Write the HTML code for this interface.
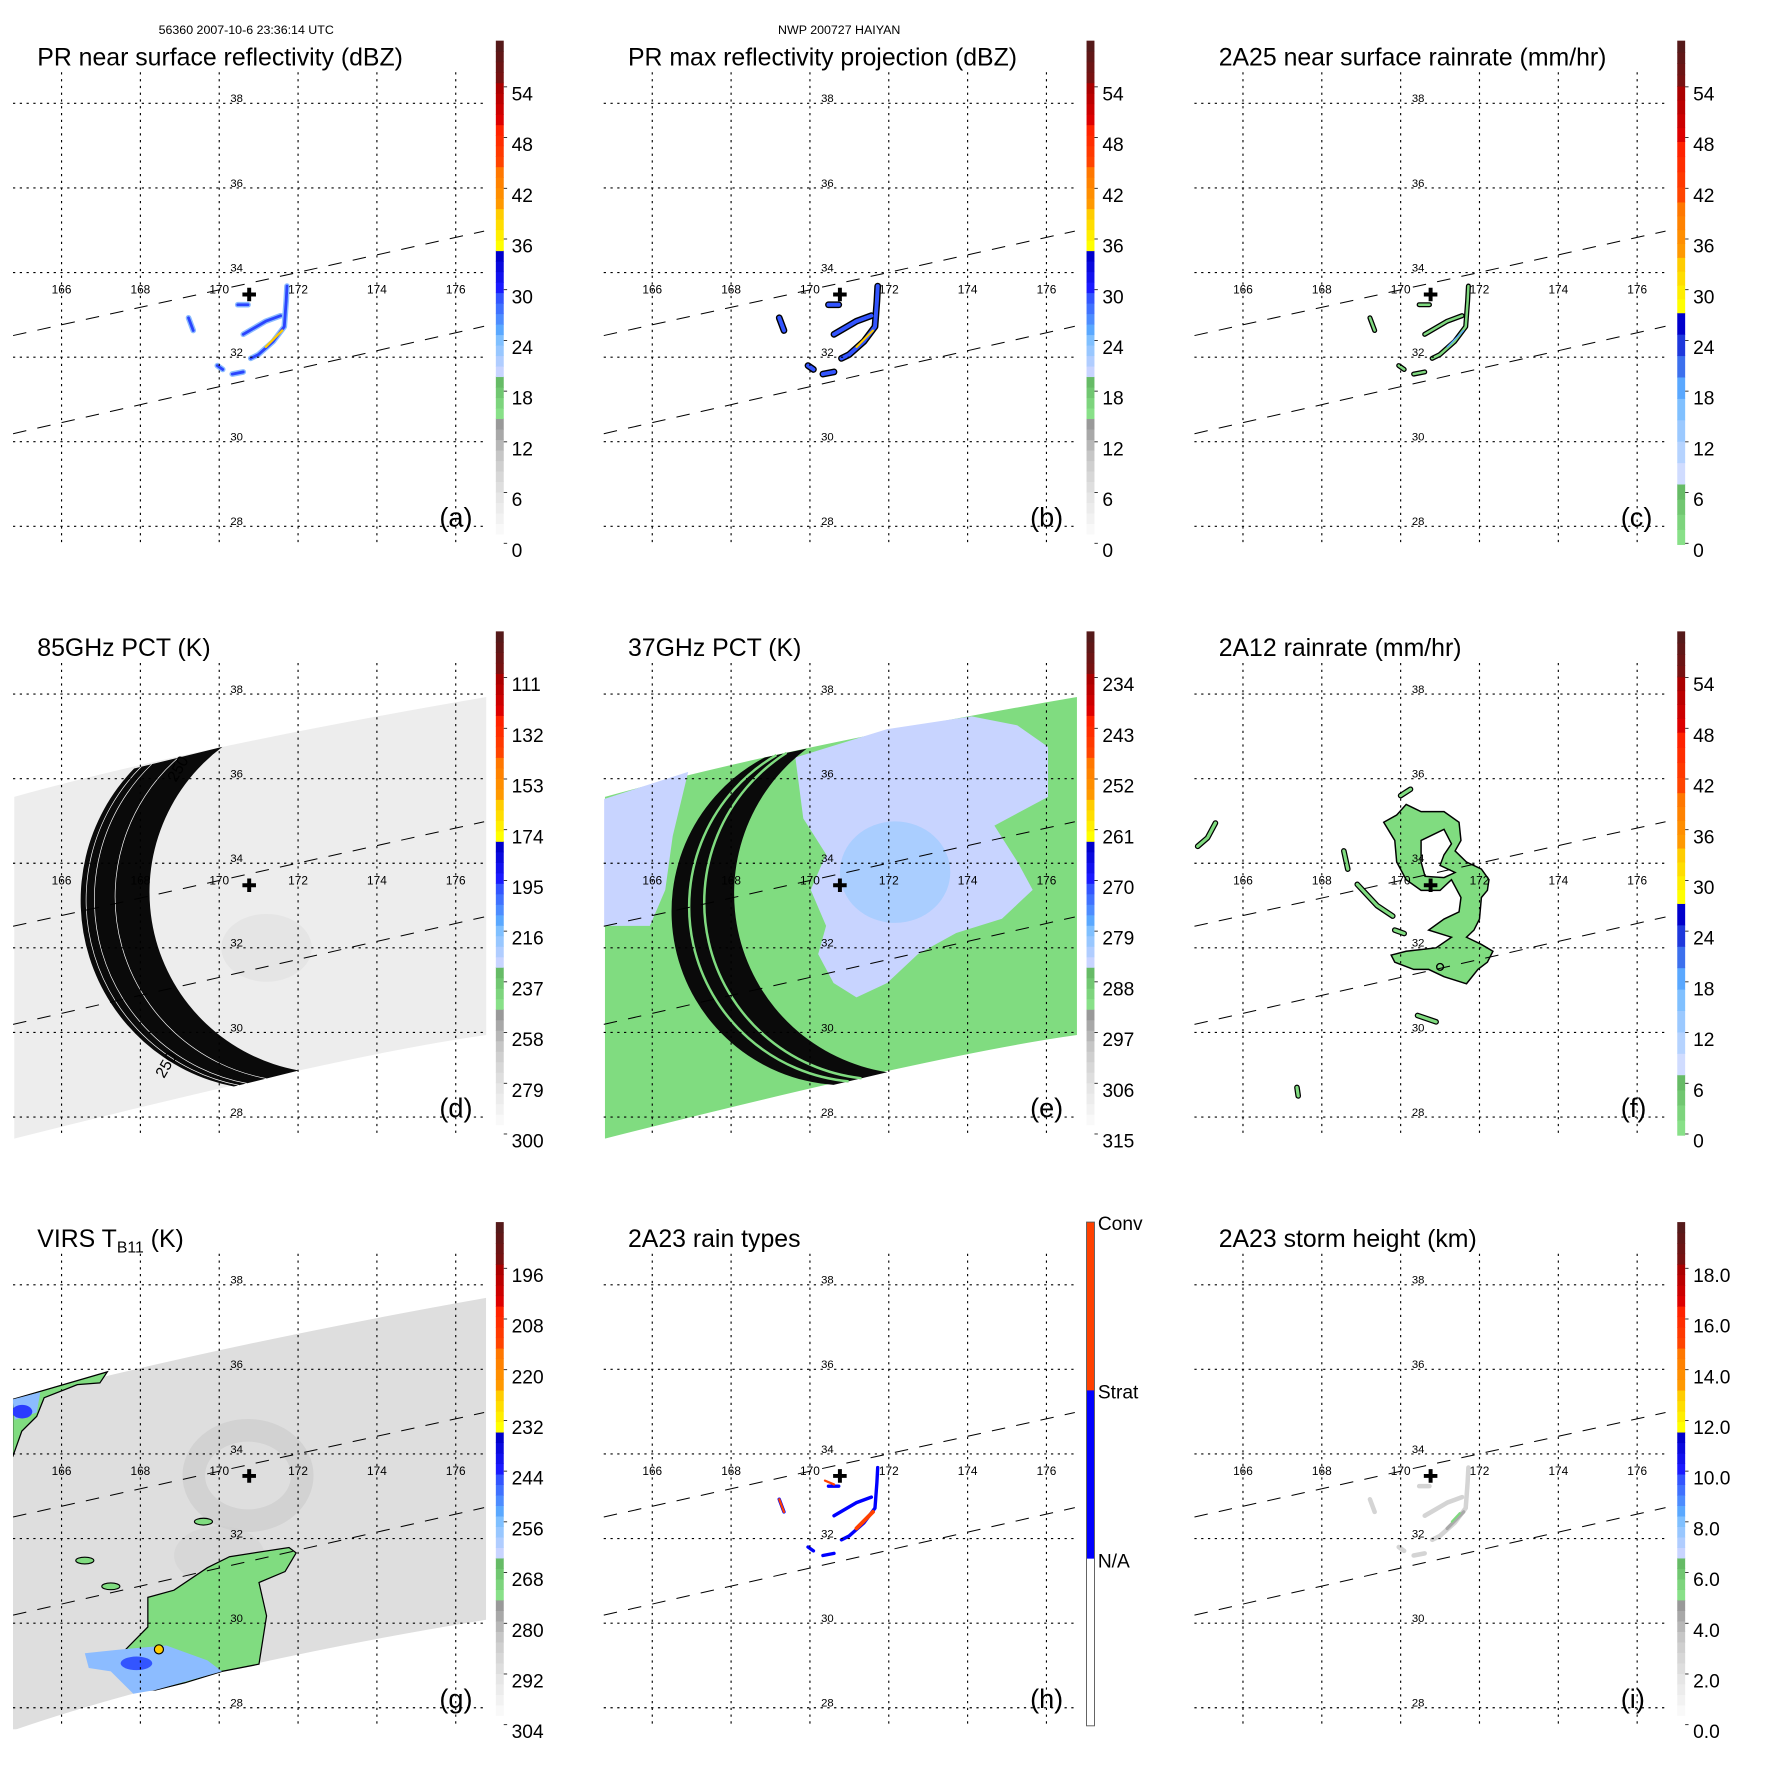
<!DOCTYPE html>
<html><head><meta charset="utf-8">
<style>
html,body{margin:0;padding:0;background:#fff;}
svg{display:block;font-family:"Liberation Sans",Arial,sans-serif;}
</style></head>
<body>
<svg id="fig" width="1771" height="1771" viewBox="0 0 1568 1568" xmlns="http://www.w3.org/2000/svg">
<rect x="0" y="0" width="1568" height="1568" fill="#fff"/>
<text x="218" y="30" font-size="11" text-anchor="middle">56360 2007-10-6 23:36:14 UTC</text>
<text x="743" y="30" font-size="11" text-anchor="middle">NWP 200727 HAIYAN</text>
</svg>
<script>
// ---- data (lon/lat) ----
const lonTicks=[166,168,170,172,174,176];
const latTicks=[38,36,34,32,30,28];
const stormCenter=[170.76,33.48];
const swathEdgePRupper=[[164.77,32.51],[176.72,34.98]];
const swathEdgePRlower=[[164.77,30.19],[176.72,32.73]];
// PR rain cells
const cellOuter=[[171.72,33.68],[171.70,33.33],[171.65,32.72],[171.37,32.37],[170.99,32.06],[170.80,31.97]];
const cellInner=[[170.61,32.54],[171.18,32.85],[171.56,32.98]];
const cellEye=[[170.47,33.24],[170.73,33.24]];
const cellSouth=[[170.33,31.60],[170.61,31.65]];
const cellWest=[[169.22,32.93],[169.34,32.63]];
const cellSW=[[169.95,31.80],[170.09,31.71]];
const cellConv=[[171.18,32.24],[171.60,32.63]];
const prCells=[cellOuter,cellInner,cellEye,cellSouth,cellWest,cellSW];
// TMI swath (85/37 GHz): upper edge, lower edge (start, mid, end)
const tmiTop=[[164.80,35.57],[170.08,36.75],[176.78,37.93]];
const tmiBot=[[164.80,27.49],[172.02,29.10],[176.78,29.94]];
const crescentD_outer=[[167.84,36.24],[166.49,33.37],[170.37,28.72]];
const crescentD_inner=[[170.08,36.75],[168.23,33.37],[172.02,29.10]];
const crescentE_outer=[[168.85,36.50],[166.52,33.37],[170.60,28.76]];
const crescentE_inner=[[169.92,36.71],[168.08,33.37],[171.96,29.06]];
const pct37Main=[[169.63,36.50],[171.96,37.17],[174.10,37.47],[175.26,37.26],[176.04,36.75],[176.04,35.57],[174.68,34.89],[175.26,34.04],[175.65,33.37],[174.87,32.69],[173.71,32.35],[172.74,31.85],[171.96,31.17],[171.18,30.83],[170.60,31.17],[170.21,31.85],[170.41,32.52],[170.02,33.37],[170.41,34.21],[169.83,35.06]];
const pct37West=[[164.78,35.52],[166.91,36.16],[166.52,34.64],[166.33,33.37],[165.94,32.52],[164.78,32.52]];
const pct37Core=[172.16,33.79,1.4,1.2];
// 2A12
const tmiRainOuter=[[169.57,34.97],[169.90,35.14],[170.14,35.39],[170.52,35.22],[171.10,35.22],[171.48,34.97],[171.53,34.54],[171.38,34.29],[171.67,34.03],[172.05,33.86],[172.24,33.61],[172.20,33.36],[172.05,33.19],[172.00,32.68],[171.86,32.42],[171.67,32.25],[172.05,32.08],[172.34,31.92],[172.20,31.66],[171.96,31.49],[171.67,31.15],[171.10,31.32],[170.71,31.49],[170.33,31.49],[169.85,31.66],[169.76,31.83],[170.14,31.92],[170.90,32.00],[171.29,32.25],[170.71,32.42],[171.10,32.68],[171.48,32.85],[171.53,33.19],[171.29,33.61],[171.00,33.36],[170.52,33.36],[170.14,33.61],[169.90,34.03],[169.85,34.54]];
const tmiRainHole=[[170.52,34.54],[171.10,34.80],[171.29,34.46],[171.10,34.20],[171.00,33.95],[171.38,33.78],[171.10,33.66],[170.62,33.69],[170.52,34.03]];
const tmiRainBands=[[[168.9,33.5],[169.4,33.0],[169.8,32.75]],[[164.85,34.4],[165.1,34.6],[165.3,34.95]],[[168.56,34.29],[168.66,33.86]],[[170.43,30.4],[170.9,30.25]],[[169.85,32.42],[170.09,32.34]],[[167.37,28.7],[167.4,28.5]],[[170.0,35.6],[170.25,35.75]]];
// VIRS
const virsTop=[[164.76,35.29],[170.5,36.55],[176.77,37.69]];
const virsBot=[[164.76,27.46],[170.07,28.86],[176.77,30.08]];
const virsNW=[[164.76,35.29],[167.16,35.94],[166.97,35.68],[166.40,35.64],[165.56,35.33],[165.37,34.89],[164.99,34.54],[164.76,33.93]];
const virsNWblue=[[164.76,35.29],[165.46,35.46],[165.37,34.98],[164.81,34.81]];
const virsSGreen=[[168.19,30.61],[168.85,30.78],[169.70,31.31],[170.26,31.57],[171.77,31.79],[171.95,31.66],[171.67,31.22],[171.01,30.96],[171.20,30.17],[171.01,29.03],[170.07,28.86],[169.13,28.59],[168.38,28.42],[167.82,28.42],[167.44,28.94],[167.63,29.38],[168.19,29.91]];
const virsSBlue=[[166.59,29.29],[167.53,29.38],[168.66,29.47],[169.70,29.12],[170.07,28.86],[168.38,28.42],[167.82,28.33],[167.25,28.86],[166.69,28.94]];
const virsWarmSpot=[168.47,29.38];
const virsSmall=[[169.60,32.40],[166.59,31.48],[167.25,30.87]];
// colorbar tick labels
const ticksA=["0","6","12","18","24","30","36","42","48","54"];
const ticksD=["300","279","258","237","216","195","174","153","132","111"];
const ticksE=["315","306","297","288","279","270","261","252","243","234"];
const ticksG=["304","292","280","268","256","244","232","220","208","196"];
const ticksI=["0.0","2.0","4.0","6.0","8.0","10.0","12.0","14.0","16.0","18.0"];
const ticksH=["N/A","Strat","Conv"];

const NS="http://www.w3.org/2000/svg";
const svg=document.getElementById('fig');
function mk(tag,attrs,parent){const e=document.createElementNS(NS,tag);for(const k in attrs)e.setAttribute(k,attrs[k]);(parent||svg).appendChild(e);return e;}
function X(p,lon){return p.ox+54.5+(lon-166)*34.9;}
function Y(p,lat){return p.oy+91.5+(38-lat)*37.45;}
function pts(p,arr){return arr.map(a=>X(p,a[0]).toFixed(1)+','+Y(p,a[1]).toFixed(1)).join(' ');}
function q3(p,arr){const a=[X(p,arr[0][0]),Y(p,arr[0][1])],m=[X(p,arr[1][0]),Y(p,arr[1][1])],b=[X(p,arr[2][0]),Y(p,arr[2][1])];
 const c=[2*m[0]-(a[0]+b[0])/2,2*m[1]-(a[1]+b[1])/2];return {a,c,b,m};}
function lerp3(A,B,t){return A.map((pt,i)=>[pt[0]+(B[i][0]-pt[0])*t,pt[1]+(B[i][1]-pt[1])*t]);}
function arc3(p,arr,rev){const Q=q3(p,arr);let a=Q.a,m=Q.m,b=Q.b;
 const d=2*(a[0]*(m[1]-b[1])+m[0]*(b[1]-a[1])+b[0]*(a[1]-m[1]));
 const ux=((a[0]**2+a[1]**2)*(m[1]-b[1])+(m[0]**2+m[1]**2)*(b[1]-a[1])+(b[0]**2+b[1]**2)*(a[1]-m[1]))/d;
 const uy=((a[0]**2+a[1]**2)*(b[0]-m[0])+(m[0]**2+m[1]**2)*(a[0]-b[0])+(b[0]**2+b[1]**2)*(m[0]-a[0]))/d;
 const r=Math.hypot(a[0]-ux,a[1]-uy);
 let z=(m[0]-a[0])*(b[1]-m[1])-(m[1]-a[1])*(b[0]-m[0]);
 let sweep=z>0?1:0;
 if(rev){const t=a;a=b;b=t;sweep=1-sweep;}
 return {a,b,r,sweep};}
function arcSeg(A){return `A${A.r.toFixed(1)},${A.r.toFixed(1)} 0 0 ${A.sweep} ${A.b[0].toFixed(1)},${A.b[1].toFixed(1)}`;}
function swathPath(p,top,bot){const t=q3(p,top),b=q3(p,bot);
 return `M${t.a} Q${t.c} ${t.b} L${b.b} Q${b.c} ${b.a} Z`;}
function crescentPath(p,o,i){const A=arc3(p,o,false),B=arc3(p,i,true);
 return `M${A.a} ${arcSeg(A)} L${B.a} ${arcSeg(B)} Z`;}
function arcLine(p,arr){const A=arc3(p,arr,false);return `M${A.a} ${arcSeg(A)}`;}

const cmapA=[[0,1,"#ffffff","#ececec"],[1,2,"#e6e6e6","#cfcfcf"],[2,3,"#c6c6c6","#999999"],[3,4,"#88e088","#66bb66"],[4,5,"#c8d4ff","#80c0ff"],[5,6,"#5aa8ff","#3355ff"],[6,7,"#1a1aff","#0000cc"],[7,8,"#ffff00","#ffcc00"],[8,9,"#ff9900","#ff7700"],[9,10,"#ff4400","#ff2200"],[10,11,"#dd0000","#aa0000"],[11,12,"#771111","#551a1a"]].map(s=>[s[0]/12,s[1]/12,s[2],s[3]]);
const cmapC=[[0,.12,"#88e088","#66bb66"],[.12,.29,"#d0dcff","#80c0ff"],[.29,.46,"#5aa8ff","#0000cc"],[.46,.57,"#ffff00","#ffcc00"],[.57,.68,"#ff9900","#ff7700"],[.68,.8,"#ff4400","#ff2200"],[.8,.91,"#dd0000","#aa0000"],[.91,1,"#771111","#551a1a"]];
const cmapH=[[0,.333,"#ffffff","#ffffff"],[.333,.667,"#0000ff","#0000ff"],[.667,1,"#ff4000","#ff4000"]];
function mix(c0,c1,t){const a=parseInt(c0.slice(1),16),b=parseInt(c1.slice(1),16);
 const r=Math.round((a>>16)+((b>>16)-(a>>16))*t),g=Math.round(((a>>8)&255)+(((b>>8)&255)-((a>>8)&255))*t),bl=Math.round((a&255)+((b&255)-(a&255))*t);
 return 'rgb('+r+','+g+','+bl+')';}

const panels=[
 {id:'a',ox:0,oy:0,title:'PR near surface reflectivity (dBZ)',ticks:ticksA,cmap:'A'},
 {id:'b',ox:523,oy:0,title:'PR max reflectivity projection (dBZ)',ticks:ticksA,cmap:'A'},
 {id:'c',ox:1046,oy:0,title:'2A25 near surface rainrate (mm/hr)',ticks:ticksA,cmap:'C'},
 {id:'d',ox:0,oy:523,title:'85GHz PCT (K)',ticks:ticksD,cmap:'A'},
 {id:'e',ox:523,oy:523,title:'37GHz PCT (K)',ticks:ticksE,cmap:'A'},
 {id:'f',ox:1046,oy:523,title:'2A12 rainrate (mm/hr)',ticks:ticksA,cmap:'C'},
 {id:'g',ox:0,oy:1046,title:'VIRS',ticks:ticksG,cmap:'A'},
 {id:'h',ox:523,oy:1046,title:'2A23 rain types',ticks:null,cmap:'H'},
 {id:'i',ox:1046,oy:1046,title:'2A23 storm height (km)',ticks:ticksI,cmap:'A'}
];

function drawCbar(p,g){
 const cb=mk('g',{},g);
 
 
 const x=p.ox+439,w=7,top=p.oy+36,bot=p.oy+482,H=bot-top;
 const cm=p.cmap==='A'?cmapA:p.cmap==='C'?cmapC:cmapH;
 cm.forEach(s=>{const n=4;for(let k=0;k<n;k++){const f0=s[0]+(s[1]-s[0])*k/n,f1=s[0]+(s[1]-s[0])*(k+1)/n;
  const r=mk('rect',{x:x,y:bot-f1*H,width:w,height:(f1-f0)*H+0.5,fill:mix(s[2],s[3],k/(n-1))},cb);
  
  }});
 if(p.cmap==='H'){mk('rect',{x:x,y:top,width:w,height:H,fill:'none',stroke:'#555','stroke-width':0.8},cb);
  [[0,p.oy+342],[1,p.oy+192],[2,p.oy+43]].forEach(a=>{const t=mk('text',{x:p.ox+449,y:a[1],'font-size':17,fill:'#000'},cb);t.textContent=ticksH[a[0]];
   
   });
  return;}
 p.ticks.forEach((lab,i)=>{const y=p.oy+487-i*44.9;
  mk('line',{x1:x+w,x2:x+w+3,y1:y-6,y2:y-6,stroke:'#000','stroke-width':0.7},cb);
  const t=mk('text',{x:p.ox+453,y:y+6,'font-size':17,fill:'#000'},cb);t.textContent=lab;
  
  });
}

function cellLine(p,par,arr,color,w,name){const l=mk('polyline',{points:pts(p,arr),fill:'none',stroke:color,'stroke-width':w,'stroke-linecap':'round','stroke-linejoin':'round'},par);
 
 return l;}

function drawField(p,f){
 if(p.id==='a'){prCells.forEach(c=>cellLine(p,f,c,'#8cbcff',5,'rain-cell-halo'));
  prCells.forEach(c=>cellLine(p,f,c,'#2a44ff',2.5,'rain-cell'));
  cellLine(p,f,cellConv,'#ffcc00',2,'convective-core');}
 if(p.id==='b'){prCells.forEach(c=>cellLine(p,f,c,'#000',6,'rain-cell-outline'));
  prCells.forEach(c=>cellLine(p,f,c,'#3355ff',3.5,'rain-cell'));
  cellLine(p,f,cellConv,'#ffcc00',1.8,'convective-core');}
 if(p.id==='c'){prCells.forEach(c=>cellLine(p,f,c,'#000',4.5,'rain-cell-outline'));
  prCells.forEach(c=>cellLine(p,f,c,'#7fd87f',2.2,'rain-cell'));
  cellLine(p,f,cellConv,'#5aa8ff',1.2,'heavy-rain-core');}
 if(p.id==='h'){prCells.forEach(c=>cellLine(p,f,c,'#0000ff',3,'stratiform-cell'));
  cellLine(p,f,cellConv,'#ff4000',3.5,'convective-cell');
  cellLine(p,f,cellWest,'#ff4000',2,'convective-cell');
  cellLine(p,f,[[170.38,33.37],[170.61,33.28]],'#ff4000',2,'convective-cell');}
 if(p.id==='i'){prCells.forEach(c=>cellLine(p,f,c,'#d4d4d4',4,'echo-top-cell'));
  cellLine(p,f,cellConv,'#aaaaaa',3,'echo-top-cell');
  cellLine(p,f,[[171.3,32.4],[171.5,32.6]],'#80d880',2,'echo-top-cell');}
 if(p.id==='d'){const s=mk('path',{d:swathPath(p,tmiTop,tmiBot),fill:'#ededed'},f);
  
  
  const sp=mk('ellipse',{cx:X(p,171.2),cy:Y(p,32.0),rx:40,ry:30,fill:'#e0e0e0',opacity:0.6},f);
  
  
  const c=mk('path',{d:crescentPath(p,crescentD_outer,crescentD_inner),fill:'#0a0a0a'},f);
  
  
  [0.08,0.2,0.5].forEach(t=>{
   const l=mk('path',{d:arcLine(p,lerp3(crescentD_outer,crescentD_inner,t)),fill:'none',stroke:'#fff','stroke-width':0.6},f);
   
   });
  [[168.9,35.9,'250'],[168.6,28.9,'250']].forEach(a=>{const t=mk('text',{x:X(p,a[0]),y:Y(p,a[1]),'font-size':14,fill:'#000',transform:`rotate(-60 ${X(p,a[0])} ${Y(p,a[1])})`},f);t.textContent=a[2];
   
   });}
 if(p.id==='e'){const s=mk('path',{d:swathPath(p,tmiTop,tmiBot),fill:'#80dc80'},f);
  
  
  [pct37Main,pct37West].forEach(poly=>{const r=mk('polygon',{points:pts(p,poly),fill:'#c8d4ff'},f);
   
   });
  const core=mk('ellipse',{cx:X(p,pct37Core[0]),cy:Y(p,pct37Core[1]),rx:pct37Core[2]*34.9,ry:pct37Core[3]*37.45,fill:'#a4ccff',opacity:0.85},f);
  
  
  const c=mk('path',{d:crescentPath(p,crescentE_outer,crescentE_inner),fill:'#0a0a0a'},f);
  
  
  [0.28,0.52].forEach(t=>{
   const l=mk('path',{d:arcLine(p,lerp3(crescentE_outer,crescentE_inner,t)),fill:'none',stroke:'#80dc80','stroke-width':2.2},f);
   
   });}
 if(p.id==='f'){const b=mk('path',{d:'M'+pts(p,tmiRainOuter)+'Z M'+pts(p,tmiRainHole)+'Z','fill-rule':'evenodd',fill:'#80dc80',stroke:'#000','stroke-width':1.3},f);
  
  
  tmiRainBands.forEach(c=>{cellLine(p,f,c,'#000',5,'rain-band-outline');});
  tmiRainBands.forEach(c=>{cellLine(p,f,c,'#80dc80',2.8,'rain-band');});
  const o=mk('circle',{cx:X(p,171.0),cy:Y(p,31.55),r:3,fill:'none',stroke:'#000','stroke-width':1.2},f);
  
  }
 if(p.id==='g'){const s=mk('path',{d:swathPath(p,virsTop,virsBot),fill:'#dedede'},f);
  
  
  const ring=mk('ellipse',{cx:X(p,170.73),cy:Y(p,33.49),rx:48,ry:40,fill:'none',stroke:'#c4c4c4','stroke-width':20,opacity:0.45},f);
  
  
  const sw=mk('ellipse',{cx:X(p,170.0),cy:Y(p,31.6),rx:40,ry:26,fill:'#cccccc',opacity:0.4},f);
  
  
  [[virsNW,'#80dc80'],[virsSGreen,'#80dc80']].forEach(a=>{const r=mk('polygon',{points:pts(p,a[0]),fill:a[1],stroke:'#000','stroke-width':1.1},f);
   
   });
  [virsNWblue,virsSBlue].forEach(a=>{const r=mk('polygon',{points:pts(p,a),fill:'#8cbcff'},f);
   
   });
  const db=mk('ellipse',{cx:X(p,167.9),cy:Y(p,29.05),rx:14,ry:6,fill:'#3355ff'},f);
  
  
  const nb=mk('ellipse',{cx:X(p,165.0),cy:Y(p,35.0),rx:9,ry:6,fill:'#2a3cff'},f);
  
  
  const ws=mk('circle',{cx:X(p,virsWarmSpot[0]),cy:Y(p,virsWarmSpot[1]),r:4,fill:'#ffcc00',stroke:'#000','stroke-width':1},f);
  
  
  virsSmall.forEach(a=>{const e=mk('ellipse',{cx:X(p,a[0]),cy:Y(p,a[1]),rx:8,ry:3,fill:'#80dc80',stroke:'#000','stroke-width':1},f);
   
   });}
}

panels.forEach(p=>{
 const g=mk('g',{});
 
 
 const clip=mk('clipPath',{id:'clip'+p.id},g);
 mk('rect',{x:p.ox+11.5,y:p.oy+36,width:419,height:449},clip);
 const field=mk('g',{'clip-path':'url(#clip'+p.id+')'},g);
 
 
 drawField(p,field);
 const grid=mk('g',{stroke:'#000','stroke-width':1,'stroke-dasharray':'2,4',fill:'none'},g);
 
 
 latTicks.forEach(lat=>{const l=mk('line',{x1:p.ox+11.5,x2:p.ox+430,y1:Y(p,lat),y2:Y(p,lat)},grid);
  
  
  const t=mk('text',{x:p.ox+204,y:Y(p,lat)-1,'font-size':10,fill:'#000'},g);t.textContent=lat;
  
  });
 lonTicks.forEach(lon=>{const l=mk('line',{x1:X(p,lon),x2:X(p,lon),y1:p.oy+64,y2:p.oy+484},grid);
  
  
  const t=mk('text',{x:X(p,lon),y:p.oy+260,'font-size':10.5,'text-anchor':'middle',fill:'#000'},g);t.textContent=lon;
  
  });
 [swathEdgePRupper,swathEdgePRlower].forEach(e=>{const l=mk('line',{x1:X(p,e[0][0]),y1:Y(p,e[0][1]),x2:X(p,e[1][0]),y2:Y(p,e[1][1]),stroke:'#000','stroke-width':0.9,'stroke-dasharray':'12,10'},g);
  
  });
 const cx=X(p,stormCenter[0]),cy=Y(p,stormCenter[1]);
 const cr=mk('path',{d:`M${cx-6},${cy}H${cx+6}M${cx},${cy-6}V${cy+6}`,stroke:'#000','stroke-width':3.5},g);
 
 
 const tt=mk('text',{x:p.ox+33,y:p.oy+58,'font-size':22,fill:'#000'},g);
 
 
 if(p.id==='g'){
  tt.appendChild(document.createTextNode('VIRS T'));
  const s1=mk('tspan',{'font-size':14,dy:5},tt);s1.textContent='B11';
  const s2=mk('tspan',{dy:-5},tt);s2.textContent=' (K)';
 } else tt.textContent=p.title;
 const lt=mk('text',{x:p.ox+389,y:p.oy+466,'font-size':24,fill:'#000'},g);
 lt.textContent='('+p.id+')';
 
 
 drawCbar(p,g);
});
</script>
</body></html>
